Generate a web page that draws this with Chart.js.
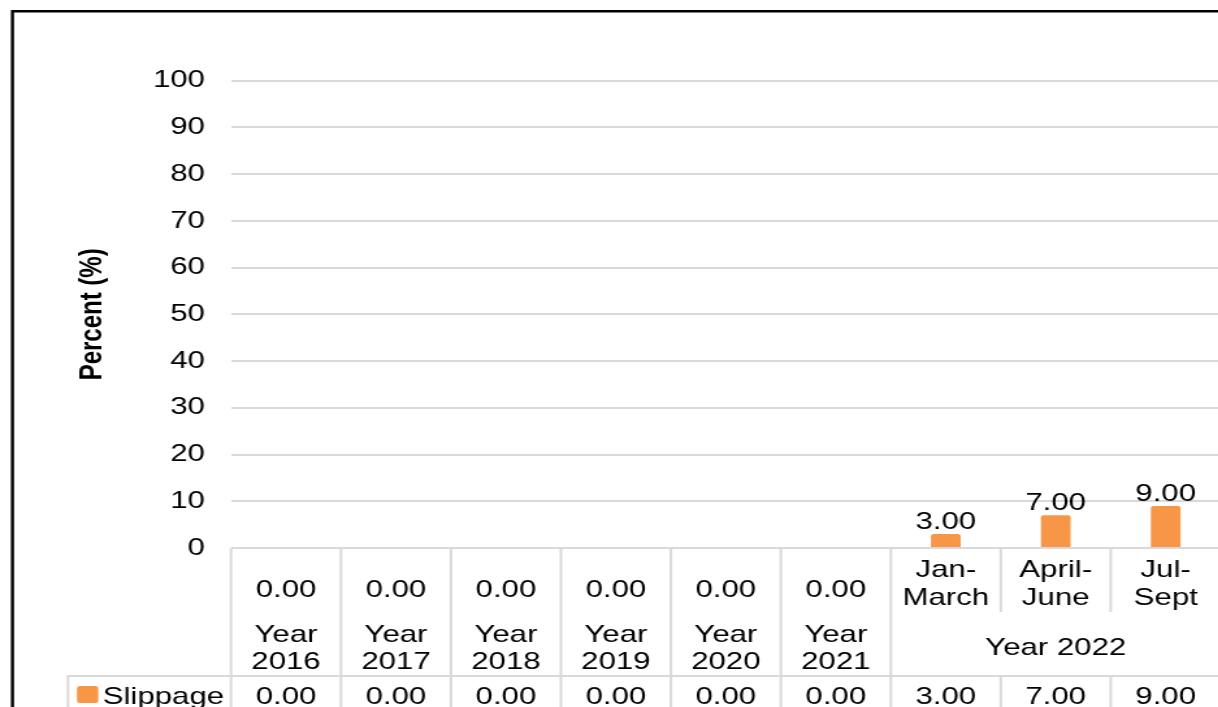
<!DOCTYPE html>
<html>
<head>
<meta charset="utf-8">
<script src="https://cdn.jsdelivr.net/npm/chart.js@4.4.1/dist/chart.umd.min.js"></script>
<style>
  html, body { margin: 0; padding: 0; background: #fff; overflow: hidden; }
  /* the source chart is stretched sideways; draw narrow, then scale */
  #stretch { width: 940px; height: 707px; transform: scaleX(1.3); transform-origin: 0 0; }
  canvas { display: block; }
</style>
</head>
<body>
<div id="stretch"><canvas id="chart" width="940" height="707"></canvas></div>
<script>
// inner category labels (empty ones show the zero value label instead)
const quarterLabels = [[], [], [], [], [], [], ['Jan-', 'March'], ['April-', 'June'], ['Jul-', 'Sept']];
const groupLabels = [['Year', '2016'], ['Year', '2017'], ['Year', '2018'], ['Year', '2019'], ['Year', '2020'], ['Year', '2021'], ['Year 2022']];
const groupSpans = [1, 1, 1, 1, 1, 1, 3];
const seriesName = 'Slippage';
const slippageValues = [0, 0, 0, 0, 0, 0, 3, 7, 9];
const yMin = 0, yMax = 100, yStep = 10;

const FONT = '24px "Liberation Sans", Arial, sans-serif';
const GRID = '#d9d9d9';
const BAR = '#f79646';

function flatLabels() {
  return quarterLabels.map((q, i) => q.length ? q.join(' ') : String(i));
}

const tablePlugin = {
  id: 'dataTable',
  afterDraw(chart) {
    const { ctx, chartArea, scales: { x } } = chart;
    const base = chartArea.bottom;
    const bottom = chart.height;
    const catW = x.getPixelForValue(1) - x.getPixelForValue(0);
    const edge = i => x.getPixelForValue(i) - catW / 2;
    const innerBottom = base + 64;
    const seriesTop = base + 128;
    const keyLeft = 52.3;

    ctx.save();
    // outer frame (top + left only, rest is cropped)
    ctx.strokeStyle = '#000';
    ctx.lineWidth = 2.4;
    ctx.beginPath();
    ctx.moveTo(9.6, bottom);
    ctx.lineTo(9.6, 11.3);
    ctx.lineTo(chart.width, 11.3);
    ctx.stroke();

    // table grid
    const groupEdges = new Set([0]);
    let acc = 0;
    groupSpans.forEach(s => { acc += s; groupEdges.add(acc); });
    ctx.strokeStyle = GRID;
    ctx.lineWidth = 2;
    for (let i = 0; i <= quarterLabels.length; i++) {
      const px = edge(i);
      ctx.beginPath();
      if (groupEdges.has(i)) {
        ctx.moveTo(px, base); ctx.lineTo(px, bottom);
      } else {
        ctx.moveTo(px, base); ctx.lineTo(px, innerBottom);
        ctx.moveTo(px, seriesTop); ctx.lineTo(px, bottom);
      }
      ctx.stroke();
    }
    ctx.beginPath();
    ctx.moveTo(keyLeft, bottom);
    ctx.lineTo(keyLeft, seriesTop);
    ctx.lineTo(chart.width, seriesTop);
    ctx.stroke();

    ctx.fillStyle = '#000';
    ctx.font = FONT;
    ctx.textAlign = 'center';
    ctx.textBaseline = 'alphabetic';

    // inner row: quarter names, or the zero value labels
    quarterLabels.forEach((lines, i) => {
      const cx = x.getPixelForValue(i);
      if (lines.length) {
        lines.forEach((t, k) => ctx.fillText(t, cx, base + 28.6 + k * 28));
      } else {
        ctx.fillText(slippageValues[i].toFixed(2), cx, base + 48.6);
      }
    });

    // outer row: years
    let start = 0;
    groupLabels.forEach((lines, g) => {
      const cx = (edge(start) + edge(start + groupSpans[g])) / 2;
      if (lines.length === 1) {
        ctx.fillText(lines[0], cx, base + 106.6);
      } else {
        lines.forEach((t, k) => ctx.fillText(t, cx, base + 93.6 + k * 27));
      }
      start += groupSpans[g];
    });

    // series row
    slippageValues.forEach((v, i) => {
      ctx.fillText(v.toFixed(2), x.getPixelForValue(i), base + 156);
    });
    ctx.fillStyle = BAR;
    ctx.beginPath();
    ctx.roundRect(59.2, base + 138, 16.4, 17, 2.5);
    ctx.fill();
    ctx.fillStyle = '#000';
    ctx.textAlign = 'left';
    ctx.fillText(seriesName, 79, base + 156);

    // value labels above the bars
    ctx.textAlign = 'center';
    const meta = chart.getDatasetMeta(0);
    meta.data.forEach((bar, i) => {
      if (slippageValues[i] > 0) {
        ctx.fillText(slippageValues[i].toFixed(2), bar.x, bar.y - 5);
      }
    });
    ctx.restore();
  }
};

new Chart(document.getElementById('chart').getContext('2d'), {
  type: 'bar',
  data: {
    labels: flatLabels(),
    datasets: [{
      label: seriesName,
      data: slippageValues,
      backgroundColor: BAR,
      borderRadius: { topLeft: 2, topRight: 2 },
      borderSkipped: 'bottom',
      categoryPercentage: 1,
      barPercentage: 0.27
    }]
  },
  options: {
    responsive: false,
    animation: false,
    devicePixelRatio: 1,
    layout: { padding: { left: 0, right: 1, top: 80.7, bottom: 159 } },
    plugins: {
      legend: { display: false },
      tooltip: { enabled: false }
    },
    scales: {
      x: {
        display: false,
        grid: { display: false }
      },
      y: {
        min: yMin,
        max: yMax,
        afterFit: scale => { scale.width = 177.7; },
        ticks: {
          stepSize: yStep,
          padding: 20,
          color: '#000',
          font: { family: '"Liberation Sans", Arial, sans-serif', size: 24 }
        },
        grid: { color: GRID, lineWidth: 2, drawTicks: false },
        border: { display: false },
        title: {
          display: true,
          text: 'Percent (%)',
          color: '#000',
          padding: { top: 57, bottom: 0 },
          font: { family: '"Liberation Sans", Arial, sans-serif', size: 24, weight: 'bold' }
        }
      }
    }
  },
  plugins: [tablePlugin]
});
</script>
</body>
</html>
